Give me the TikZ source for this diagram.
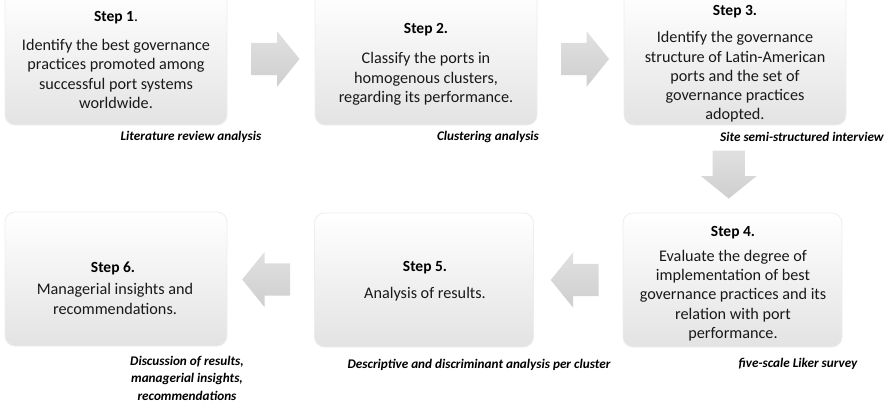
\documentclass[tikz,border=0pt]{standalone}
\usepackage{fontspec}
\setmainfont{Carlito}
\usetikzlibrary{shapes.arrows,calc}

\tikzset{
  stepbox/.style={rounded corners=10pt, top color=white, bottom color=gray!22,
    draw=gray!14, line width=0.8pt, minimum width=222pt, minimum height=134pt,
    inner sep=0pt},
  blockarrow/.style={single arrow, draw=none, top color=gray!24, bottom color=gray!38,
    minimum height=48pt, inner sep=16pt, single arrow head extend=11.5pt,
    single arrow tip angle=102},
  head/.style={font=\fontsize{15.5}{19}\selectfont\bfseries, inner sep=0pt},
  body/.style={font=\fontsize{16.2}{19.3}\selectfont, align=center, inner sep=0pt, text=black!90},
  method/.style={font=\fontsize{13.2}{17.5}\selectfont\bfseries\itshape, align=center, inner sep=0pt}
}

\begin{document}
\begin{tikzpicture}[x=1pt, y=-1pt]
\useasboundingbox (0,0) rectangle (896,402);

% step boxes
\node[stepbox] (b1) at (116,58) {};
\node[stepbox] (b2) at (426,58) {};
\node[stepbox] (b3) at (735,58) {};
\node[stepbox, minimum width=219pt] (b4) at (732.5,280) {};
\node[stepbox, minimum width=219pt] (b5) at (424,280) {};
\node[stepbox] (b6) at (116,279) {};

% block arrows between the steps
\node[blockarrow] (a12) at ($(b1.east)!0.5!(b2.west)+(-2,1)$) {};
\node[blockarrow] (a23) at ($(b2.east)!0.5!(b3.west)+(-2,1)$) {};
\node[blockarrow, shape border rotate=270] (a34) at ($(b3.south)!0.5!(b4.north)+(-5,-1)$) {};
\node[blockarrow, shape border rotate=180] (a45) at ($(b5.east)!0.5!(b4.west)+(3,0)$) {};
\node[blockarrow, shape border rotate=180] (a56) at ($(b6.east)!0.5!(b5.west)+(2,0)$) {};

% headings
\node[head] (h1) at (116,18) {Step 1\textmd{.}};
\node[head] (h2) at (426,30) {Step 2.};
\node[head] (h3) at (735,12) {Step 3.};
\node[head] (h4) at (733,233) {Step 4.};
\node[head] (h5) at (425,268) {Step 5.};
\node[head] (h6) at (113,268) {Step 6.};

% descriptions
\node[body] (t1) at (116,74) {Identify the best governance\\practices promoted among\\successful port systems\\worldwide.};
\node[body] (t2) at (426,79) {Classify the ports in\\homogenous clusters,\\regarding its performance.};
\node[body] (t3) at (735,77) {Identify the governance\\structure of Latin-American\\ports and the set of\\governance practices\\adopted.};
\node[body] (t4) at (733,295.5) {Evaluate the degree of\\implementation of best\\governance practices and its\\relation with port\\performance.};
\node[body] (t5) at (425,294) {Analysis of results.};
\node[body] (t6) at (115,299) {Managerial insights and\\recommendations.};

% methods
\node[method] (m1) at (191,137) {Literature review analysis};
\node[method] (m2) at (488,137) {Clustering analysis};
\node[method] (m3) at (802,137) {Site semi-structured interview};
\node[method] (m4) at (798,364) {five-scale Liker survey};
\node[method] (m5) at (479,365) {Descriptive and discriminant analysis per cluster};
\node[method] (m6) at (187,378) {Discussion of results,\\managerial insights,\\recommendations};
\end{tikzpicture}
\end{document}
